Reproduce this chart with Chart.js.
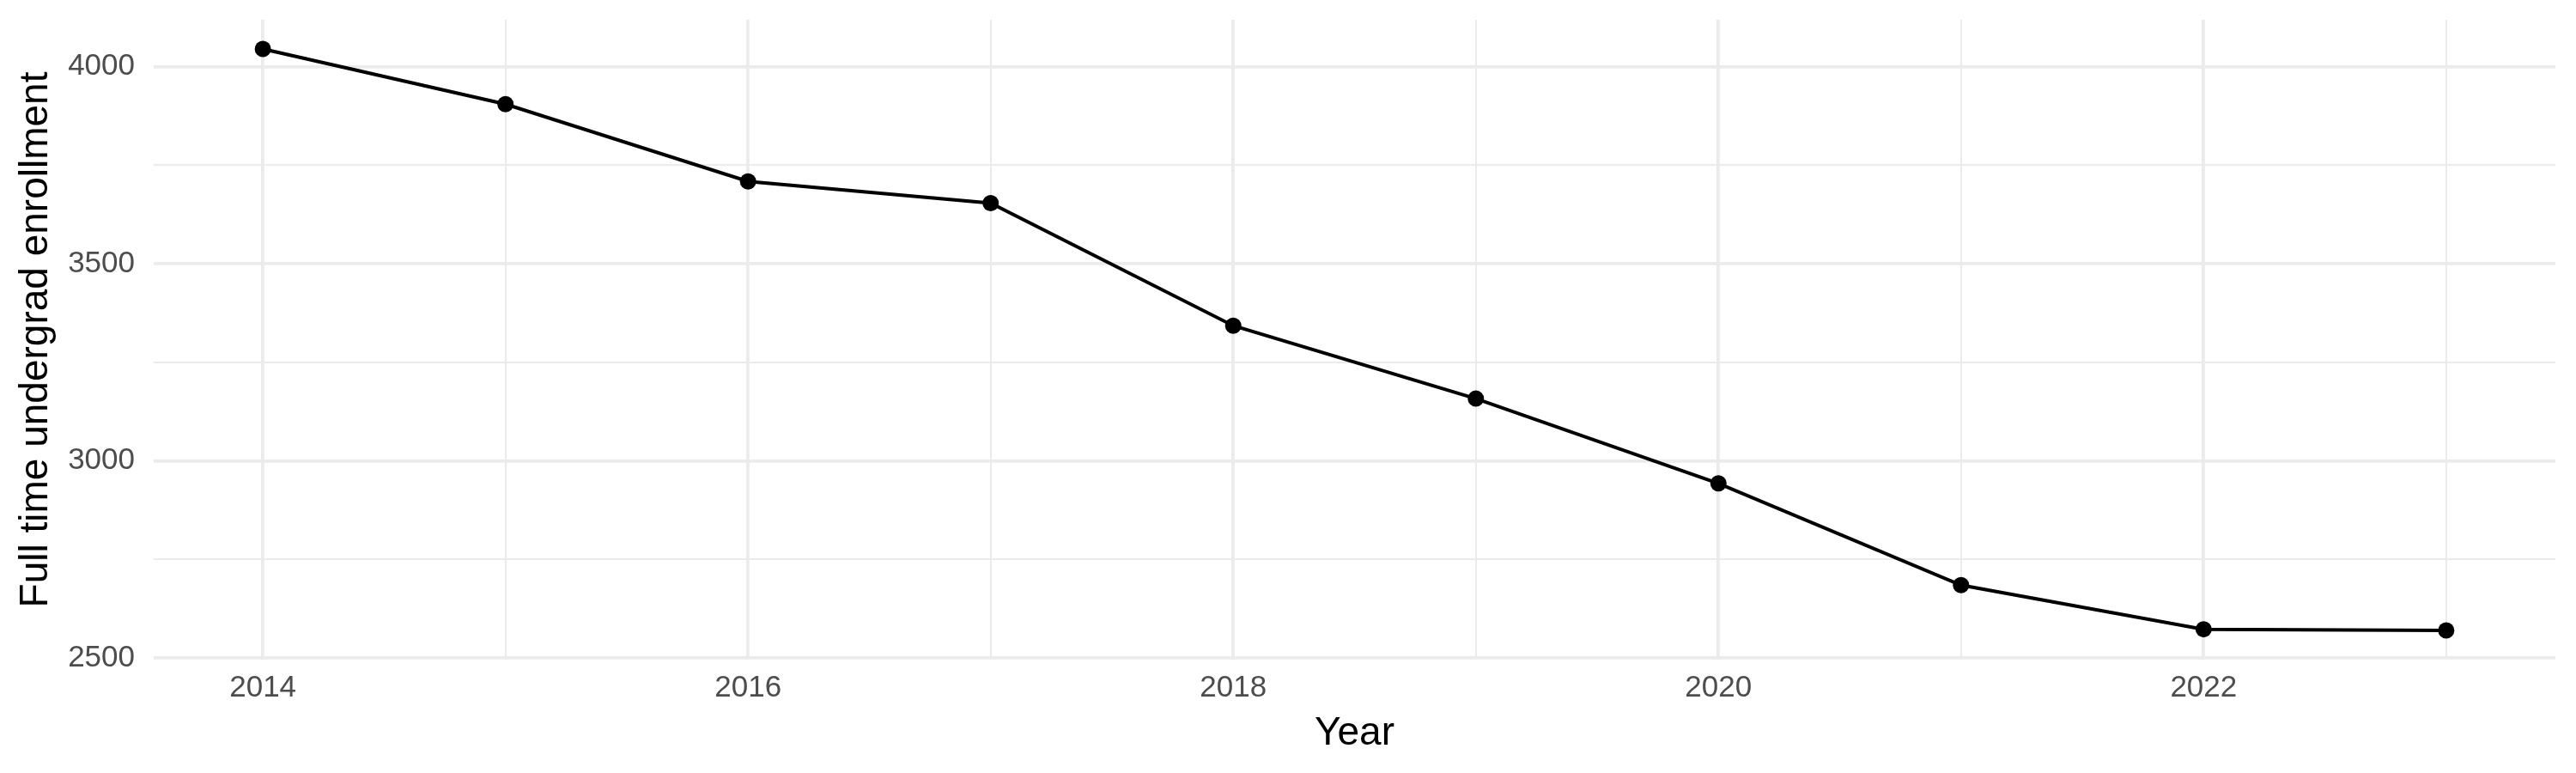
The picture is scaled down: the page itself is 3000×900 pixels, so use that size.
<!DOCTYPE html>
<html>
<head>
<meta charset="utf-8">
<script src="https://cdn.jsdelivr.net/npm/chart.js@4/dist/chart.umd.min.js"></script>
<style>
  html, body { margin: 0; padding: 0; background: #ffffff; }
  #wrap { width: 3000px; height: 900px; }
</style>
</head>
<body>
<div id="wrap"><canvas id="enrollChart" width="3000" height="900"></canvas></div>
<script>
// Data
const years = [2014, 2015, 2016, 2017, 2018, 2019, 2020, 2021, 2022, 2023];
const enrollment = [4045, 3905, 3709, 3654, 3343, 3158, 2943, 2685, 2573, 2570];
const yTicks = [2500, 2750, 3000, 3250, 3500, 3750, 4000];
const yLabelled = [2500, 3000, 3500, 4000];
const xLabelled = [2014, 2016, 2018, 2020, 2022];

const fontFamily = '"Liberation Sans", Arial, Helvetica, sans-serif';
const gridColor = '#ebebeb';

document.addEventListener('DOMContentLoaded', function () {
    const ctx = document.getElementById('enrollChart');

    new Chart(ctx, {
        type: 'line',
        data: {
            datasets: [{
                label: 'Full time undergrad enrollment',
                data: years.map((y, i) => ({ x: y, y: enrollment[i] })),
                borderColor: '#000000',
                backgroundColor: '#000000',
                borderWidth: 4,
                pointRadius: 9.5,
                pointBorderWidth: 0,
                pointBackgroundColor: '#000000',
                tension: 0,
                fill: false
            }]
        },
        options: {
            responsive: false,
            animation: false,
            devicePixelRatio: 1,
            layout: {
                padding: { top: 23, right: 24, left: 0, bottom: 0 }
            },
            plugins: {
                legend: { display: false },
                tooltip: { enabled: false }
            },
            scales: {
                x: {
                    type: 'linear',
                    min: 2013.55,
                    max: 2023.45,
                    afterBuildTicks: function (scale) {
                        scale.ticks = years.map(v => ({ value: v }));
                    },
                    afterFit: function (scale) {
                        scale.height = 132;
                        scale.paddingLeft = 0;
                        scale.paddingRight = 0;
                    },
                    border: { display: false },
                    grid: {
                        color: gridColor,
                        drawTicks: false,
                        lineWidth: c => (c.tick && xLabelled.includes(c.tick.value)) ? 3.8 : 2
                    },
                    ticks: {
                        autoSkip: false,
                        maxRotation: 0,
                        padding: 12,
                        color: '#4d4d4d',
                        font: { family: fontFamily, size: 35 },
                        callback: v => xLabelled.includes(v) ? String(v) : ''
                    },
                    title: {
                        display: true,
                        text: 'Year',
                        color: '#000000',
                        padding: 18,
                        font: { family: fontFamily, size: 46 }
                    }
                },
                y: {
                    type: 'linear',
                    min: 2496,
                    max: 4119,
                    afterBuildTicks: function (scale) {
                        scale.ticks = yTicks.map(v => ({ value: v }));
                    },
                    afterFit: function (scale) {
                        scale.width = 179;
                        scale.paddingTop = 0;
                        scale.paddingBottom = 0;
                    },
                    border: { display: false },
                    grid: {
                        color: gridColor,
                        drawTicks: false,
                        lineWidth: c => (c.tick && yLabelled.includes(c.tick.value)) ? 3.8 : 2
                    },
                    ticks: {
                        autoSkip: false,
                        padding: 22,
                        color: '#4d4d4d',
                        font: { family: fontFamily, size: 35 },
                        callback: v => yLabelled.includes(v) ? String(v) : ''
                    },
                    title: {
                        display: true,
                        text: 'Full time undergrad enrollment',
                        color: '#000000',
                        padding: 15,
                        font: { family: fontFamily, size: 46 }
                    }
                }
            }
        }
    });
});
</script>
</body>
</html>
